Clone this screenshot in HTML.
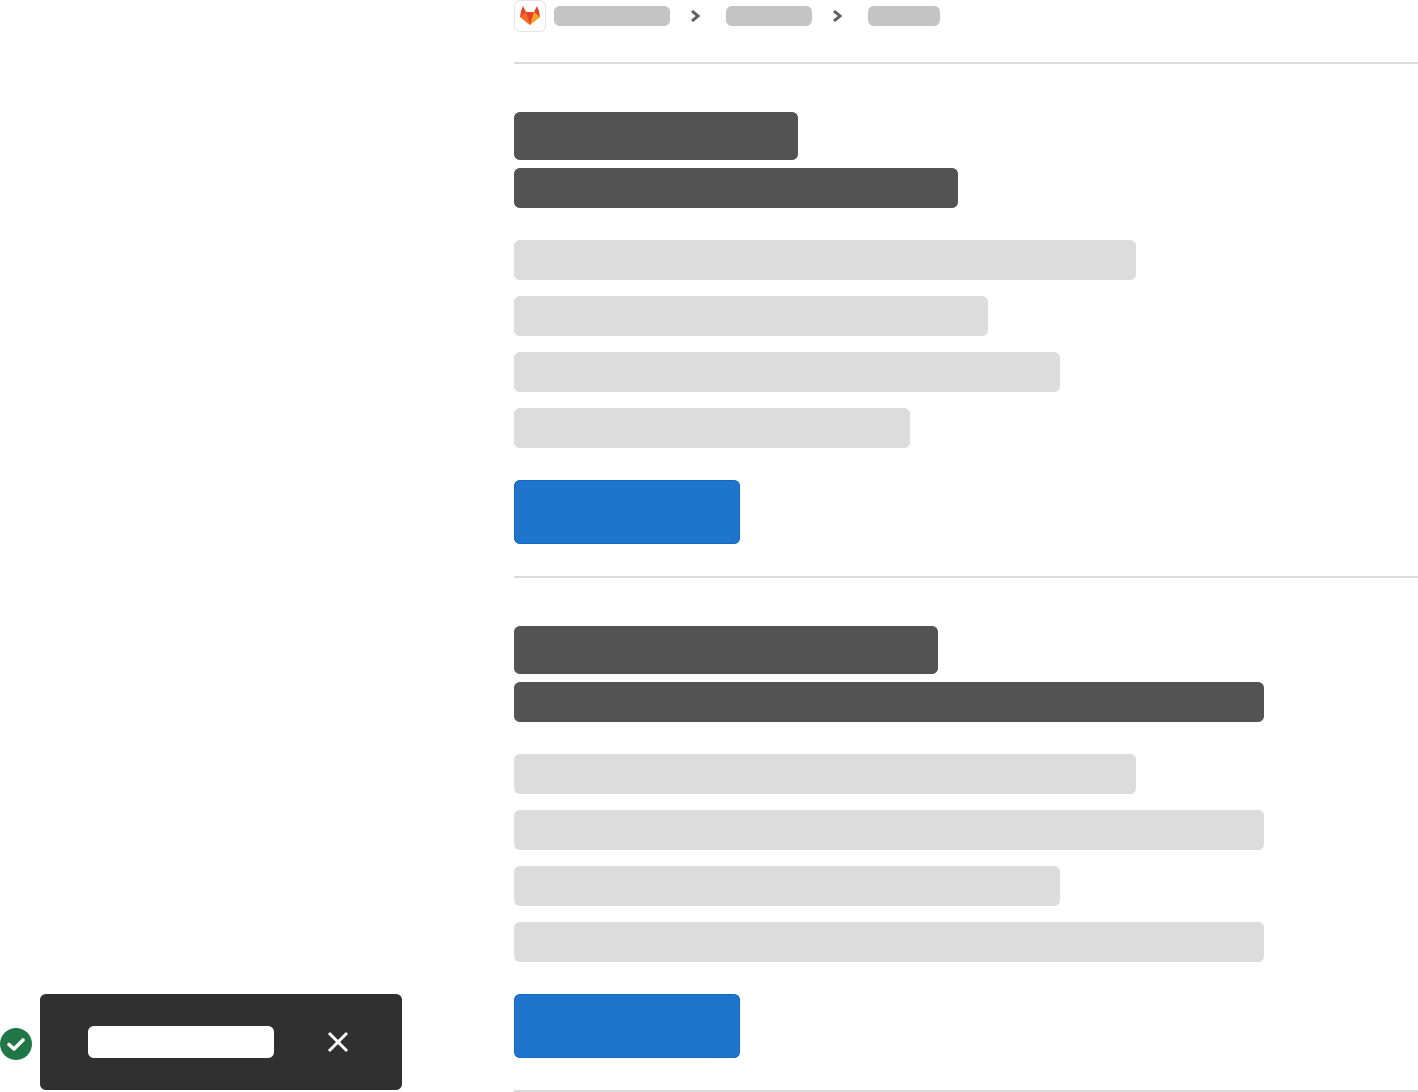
<!DOCTYPE html>
<html><head><meta charset="utf-8"><style>
html,body{margin:0;padding:0;background:#fff;width:1418px;height:1092px;overflow:hidden;position:relative;font-family:"Liberation Sans",sans-serif}
div{position:absolute;box-sizing:border-box}
.crumb{background:#c4c4c4;border-radius:6px;height:20px;top:6px}
.dk{background:#535353;border-radius:6px;left:514px}
.lt{background:#dcdcdc;border-radius:6px;left:514px;height:40px}
.btn{background:#1f75cb;border:1px solid #1068bf;border-radius:6px;left:514px;width:226px;height:64px}
.hr{left:514px;width:904px;height:2px;background:#dcdcdc}
</style></head><body>
<div style="left:514px;top:0;width:32px;height:32px;border:1px solid #e6e6e6;border-radius:6px;background:#fff">
<svg width="30" height="30" viewBox="0 0 30 30" style="position:absolute;left:0;top:0"><path d="M6 10 L8 5 L11 11 L19 11 L22 5 L24 10 L25 16 L15 24 L5 16 Z" fill="#e24329"/><path d="M5 16 L15 24 L11 11 Z" fill="#fc6d26"/><path d="M25 16 L15 24 L19 11 Z" fill="#fca326"/></svg></div>
<div class="crumb" style="left:554px;width:116px"></div>
<svg style="position:absolute;left:688px;top:8px" width="14" height="16"><path d="M4 3 L10 8 L4 13" stroke="#5e5e5e" stroke-width="3" fill="none"/></svg>
<div class="crumb" style="left:726px;width:86px"></div>
<svg style="position:absolute;left:830px;top:8px" width="14" height="16"><path d="M4 3 L10 8 L4 13" stroke="#5e5e5e" stroke-width="3" fill="none"/></svg>
<div class="crumb" style="left:868px;width:72px"></div>
<div class="hr" style="top:62px"></div>

<div class="dk" style="top:112px;width:284px;height:48px"></div>
<div class="dk" style="top:168px;width:444px;height:40px"></div>
<div class="lt" style="top:240px;width:622px"></div>
<div class="lt" style="top:296px;width:474px"></div>
<div class="lt" style="top:352px;width:546px"></div>
<div class="lt" style="top:408px;width:396px"></div>
<div class="btn" style="top:480px"></div>
<div class="hr" style="top:576px"></div>

<div class="dk" style="top:626px;width:424px;height:48px"></div>
<div class="dk" style="top:682px;width:750px;height:40px"></div>
<div class="lt" style="top:754px;width:622px"></div>
<div class="lt" style="top:810px;width:750px"></div>
<div class="lt" style="top:866px;width:546px"></div>
<div class="lt" style="top:922px;width:750px"></div>
<div class="btn" style="top:994px"></div>
<div class="hr" style="top:1090px"></div>

<div style="left:40px;top:994px;width:362px;height:96px;background:#303030;border-radius:6px">
<div style="left:48px;top:32px;width:186px;height:32px;background:#fff;border-radius:6px"></div>
<svg style="position:absolute;left:286px;top:36px" width="24" height="24"><path d="M3 3 L21 21 M21 3 L3 21" stroke="#fff" stroke-width="3"/></svg>
</div>
<svg style="position:absolute;left:0;top:1028px" width="33" height="33"><circle cx="16" cy="16" r="16" fill="#217645"/><path d="M9 16.5 L14 21 L23 12" stroke="#fff" stroke-width="3.5" fill="none" stroke-linecap="round" stroke-linejoin="round"/></svg>
</body></html>
